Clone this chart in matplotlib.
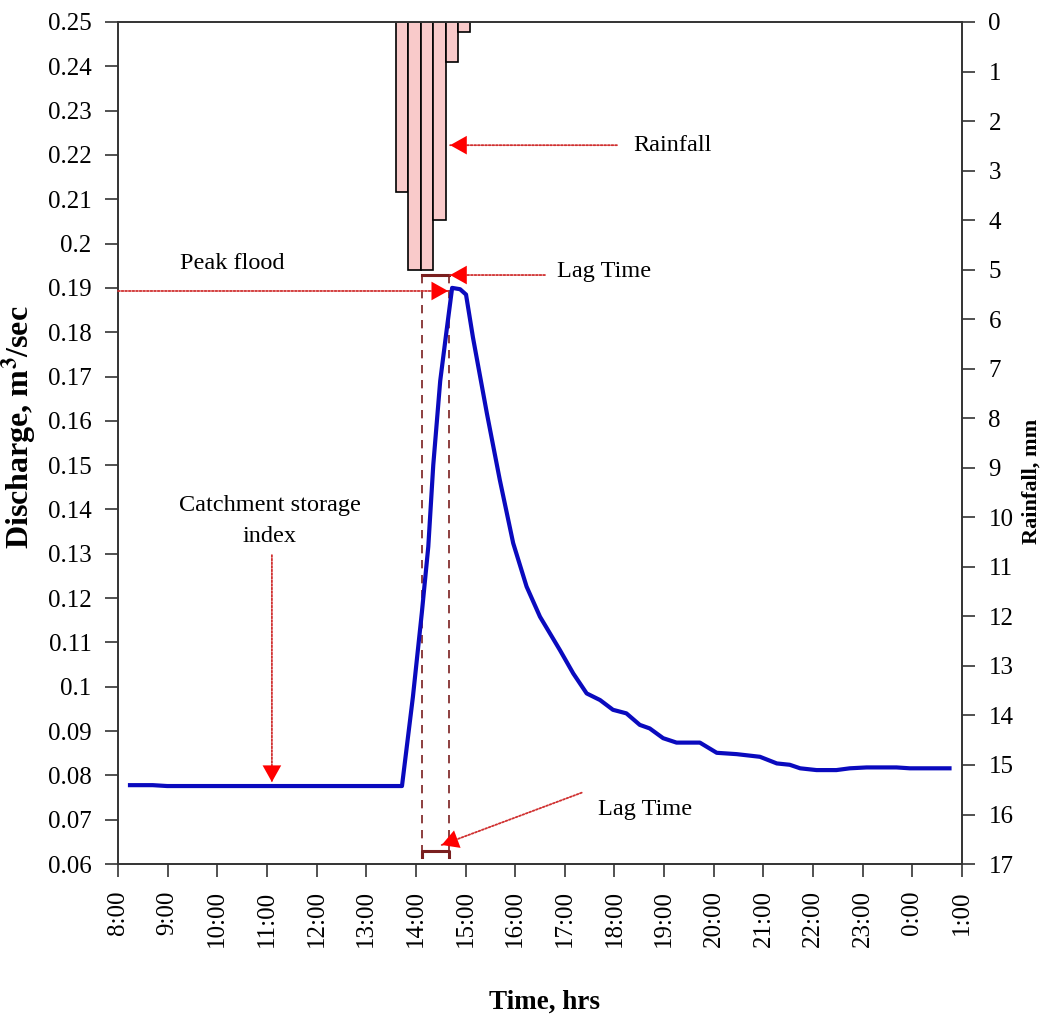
import matplotlib
matplotlib.use("Agg")
import matplotlib.pyplot as plt

# ---------------- data ----------------
# discharge hydrograph (time in decimal hours from 8:00; 25 = 1:00 next day)
q_time = [8.20, 8.70, 8.99, 10.0, 11.0, 12.0, 13.0, 13.72, 13.94, 14.12, 14.25, 14.35,
          14.49, 14.62, 14.73, 14.89, 15.01, 15.15, 15.43, 15.69, 15.96, 16.23, 16.50,
          16.90, 17.17, 17.44, 17.71, 17.97, 18.24, 18.51, 18.71, 18.98, 19.25, 19.72,
          20.06, 20.46, 20.93, 21.27, 21.53, 21.74, 22.07, 22.47, 22.74, 23.08, 23.68,
          23.95, 24.79]
q_value = [0.0778, 0.0778, 0.0776, 0.0776, 0.0776, 0.0776, 0.0776, 0.0776, 0.0977, 0.1167,
           0.1316, 0.1500, 0.1690, 0.1805, 0.1900, 0.1897, 0.1885, 0.1788, 0.1617, 0.1467,
           0.1324, 0.1226, 0.1158, 0.1083, 0.1030, 0.0985, 0.0970, 0.0948, 0.0940, 0.0914,
           0.0906, 0.0884, 0.0874, 0.0874, 0.0851, 0.0848, 0.0842, 0.0827, 0.0824, 0.0816,
           0.0812, 0.0812, 0.0816, 0.0818, 0.0818, 0.0816, 0.0816]

# rainfall hyetograph (15-min intervals, start time in decimal hours)
rain_start = [13.60, 13.85, 14.10, 14.35, 14.60, 14.85]
rain_mm = [3.43, 5.0, 5.0, 4.0, 0.8, 0.2]

# axis ticks
x_ticks = list(range(8, 26))
x_labels = ["8:00", "9:00", "10:00", "11:00", "12:00", "13:00", "14:00", "15:00",
            "16:00", "17:00", "18:00", "19:00", "20:00", "21:00", "22:00", "23:00",
            "0:00", "1:00"]
q_ticks = [0.06, 0.07, 0.08, 0.09, 0.10, 0.11, 0.12, 0.13, 0.14, 0.15, 0.16, 0.17,
           0.18, 0.19, 0.20, 0.21, 0.22, 0.23, 0.24, 0.25]
rain_ticks = list(range(0, 18))

# lag time markers (hours)
lag_start = 14.12
lag_end = 14.67

# ---------------- style ----------------
plt.rcParams['font.family'] = ['Liberation Serif', 'DejaVu Serif']
plt.rcParams['mathtext.fontset'] = 'stix'
SPINE = '#333333'
TICK_FS = 18
ANN_FS = 17.5
LINE_RED = '#D03030'
HEAD_RED = '#FF0000'
BRACKET = '#7A1F1F'

fig = plt.figure(figsize=(10.46, 10.17), dpi=100)
ax = fig.add_axes([0.1128, 0.1504, 0.8069, 0.828])
ax2 = ax.twinx()
ax.set_zorder(ax2.get_zorder() + 1)
ax.patch.set_visible(False)

# rainfall bars
ax2.bar(rain_start, rain_mm, width=0.25, align='edge', color='#F9CACA',
        edgecolor='black', linewidth=1.2)
ax2.set_ylim(17, 0)
ax2.set_yticks(rain_ticks)
ax2.set_yticklabels([str(t) for t in rain_ticks], fontsize=TICK_FS)
ax2.set_ylabel('Rainfall, mm', fontsize=16, fontweight='bold', rotation=90)
ax2.yaxis.set_label_coords(1.071, 0.454)

# discharge
ax.plot(q_time, q_value, color='#0A0ABE', lw=3.0, solid_joinstyle='round',
        solid_capstyle='butt', zorder=3)
ax.set_xlim(8, 25)
ax.set_ylim(0.06, 0.25)
ax.set_xticks(x_ticks)
ax.set_xticklabels(x_labels, rotation=90, fontsize=TICK_FS)
ax.set_yticks(q_ticks)
ax.set_yticklabels(['{:g}'.format(round(t, 2)) for t in q_ticks], fontsize=TICK_FS)
ax.set_ylabel('Discharge, m$^{\\mathbf{3}}$/sec', fontsize=23, fontweight='bold')
ax.yaxis.set_label_coords(-0.094, 0.519)
ax.set_xlabel('Time, hrs', fontsize=19.5, fontweight='bold')
ax.xaxis.set_label_coords(0.505, -0.149)

for a in (ax, ax2):
    for s in a.spines.values():
        s.set_color(SPINE)
        s.set_linewidth(1.2)
    a.tick_params(direction='out', length=9.5, width=1.2, color=SPINE, pad=9.5)

# lag time brackets and dashed guides
for xv in (lag_start, lag_end):
    ax.plot([xv, xv], [0.1929, 0.0616], color=BRACKET, lw=1.2,
            linestyle=(0, (5, 4)), zorder=2)
ax.plot([lag_start, lag_end], [0.1929, 0.1929], color=BRACKET, lw=2.2, zorder=4)
ax.plot([lag_start, lag_start, lag_end, lag_end], [0.0616, 0.0629, 0.0629, 0.0616],
        color=BRACKET, lw=2.2, zorder=4)


def arrow(tip, start):
    ax.annotate('', xy=tip, xytext=start,
                arrowprops=dict(arrowstyle='-', linestyle=(0, (1, 1)), color=LINE_RED,
                                lw=1.3, shrinkA=0, shrinkB=0), zorder=5)
    ax.annotate('', xy=tip, xytext=start,
                arrowprops=dict(arrowstyle='-|>,head_length=0.75,head_width=0.42',
                                linestyle='-', color=HEAD_RED, lw=0,
                                mutation_scale=16, shrinkA=0, shrinkB=0), zorder=6)


# peak flood
arrow((14.65, 0.1893), (8.0, 0.1893))
ax.text(10.30, 0.1956, 'Peak flood', fontsize=ANN_FS, ha='center', va='center')
# lag time (upper)
arrow((14.69, 0.1929), (16.60, 0.1929))
ax.text(17.79, 0.1936, 'Lag Time', fontsize=ANN_FS, ha='center', va='center')
# rainfall
arrow((14.69, 0.2222), (18.05, 0.2222))
ax.text(19.16, 0.2222, 'Rainfall', fontsize=ANN_FS, ha='center', va='center')
# lag time (lower)
arrow((14.52, 0.0643), (17.34, 0.0761))
ax.text(18.61, 0.0724, 'Lag Time', fontsize=ANN_FS, ha='center', va='center')
# catchment storage index
arrow((11.10, 0.0785), (11.10, 0.1297))
ax.text(11.06, 0.1374, 'Catchment storage\nindex', fontsize=ANN_FS, ha='center',
        va='center', linespacing=1.6)

fig.savefig('out.png', dpi=100)
